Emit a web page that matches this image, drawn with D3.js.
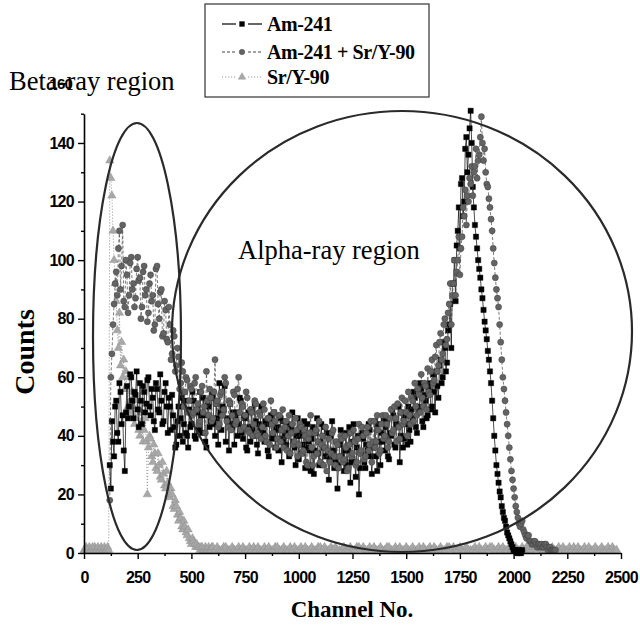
<!DOCTYPE html>
<html><head><meta charset="utf-8">
<script src="https://cdn.jsdelivr.net/npm/d3@7"></script>
<style>body{margin:0;background:#fff}svg{display:block}</style>
</head><body><svg id="c" width="640" height="632"></svg>
<script>
// ---- data ----
// Am-241: channels 120..2040, step 5
const am241Start = 120, am241Step = 5;
const am241 = [
 30,22,45,38,33,50,52,41,38,58,55,44,47,35,28,48,
 57,46,50,61,60,52,46,55,54,62,49,43,58,52,44,57,55,48,51,59,
 60,50,47,56,53,45,42,58,56,49,48,61,52,44,45,55,58,50,41,53,
 50,42,54,47,43,36,37,45,50,40,46,53,38,44,52,41,40,36,49,43,
 44,55,52,40,39,49,48,42,55,47,41,53,47,38,36,51,50,43,45,54,
 53,44,40,51,46,37,58,48,42,50,49,57,38,46,45,35,51,44,43,48,
 37,47,48,40,44,53,52,41,39,47,46,36,35,48,43,38,49,42,40,51,
 45,37,34,44,42,50,50,41,38,45,44,35,33,46,47,39,40,48,36,42,
 43,35,39,46,31,38,45,40,37,44,41,33,34,43,48,38,36,30,40,46,
 32,40,42,34,37,45,29,36,44,38,35,28,39,43,27,35,41,46,34,30,
 38,44,30,36,43,33,33,41,25,32,40,45,35,29,31,38,22,30,37,42,
 33,40,28,35,41,30,35,43,24,31,38,44,31,26,36,40,20,29,34,41,
 39,31,29,37,35,44,42,33,27,36,37,45,33,28,44,38,30,41,38,46,
 35,43,45,33,32,41,40,49,47,37,36,44,43,50,31,40,48,36,39,47,
 44,37,50,42,38,49,46,55,53,43,41,50,49,58,56,45,43,54,52,46,
 47,56,58,49,50,61,55,48,62,57,53,64,66,58,60,72,70,62,65,76,
 78,85,70,92,92,100,86,105,110,118,104,126,128,115,120,138,142,130,136,145,
 151,140,125,118,112,108,104,100,97,94,90,87,83,79,76,73,69,66,62,58,
 52,46,40,35,30,27,24,21,19,16,14,12,11,9,7,6,5,4,3,2,
 1,1,1,0,0,1,0,0,1
];
// Am-241 + Sr/Y-90: channels 120..2195, step 5
const amSrStart = 120, amSrStep = 5;
const amSr = [
 18,60,68,78,85,92,96,88,104,110,90,98,112,86,84,100,
 95,82,88,99,101,90,92,84,87,97,101,93,94,80,84,96,98,88,90,79,
 82,92,95,86,88,76,78,97,98,85,80,89,90,74,75,86,83,73,72,84,
 78,66,68,76,74,62,64,70,67,56,58,65,62,50,55,60,59,48,52,57,
 56,47,48,58,60,49,51,44,45,55,57,48,50,41,62,52,47,56,53,45,
 46,55,66,51,52,43,44,54,55,47,49,60,58,45,43,52,51,42,47,55,
 54,44,45,56,60,48,42,51,50,43,47,55,53,42,41,49,48,40,44,52,
 51,41,40,48,47,39,43,51,49,40,38,46,46,37,52,44,41,48,45,36,
 39,47,47,38,42,49,36,43,45,35,40,47,34,41,44,37,38,46,42,33,
 37,44,43,34,35,42,40,31,30,39,41,47,36,30,33,41,42,34,38,45,
 31,37,40,30,36,43,28,35,39,31,34,41,42,33,30,38,37,29,33,40,
 39,31,32,40,36,28,29,37,41,33,34,42,38,30,31,39,44,34,35,43,
 40,32,33,41,43,35,37,45,31,38,45,36,38,47,42,34,35,44,47,39,
 40,47,44,36,38,46,49,41,42,50,46,38,51,43,39,48,53,44,45,52,
 48,40,55,47,44,53,52,45,58,50,47,56,54,48,61,53,50,58,57,49,
 63,55,54,62,66,58,59,67,71,62,64,72,75,66,68,78,80,71,73,82,
 85,92,78,88,92,100,88,96,100,108,95,104,108,118,115,124,112,122,120,128,
 126,132,122,130,132,138,128,134,136,142,149,140,134,138,130,126,125,121,118,114,
 110,104,99,94,90,87,84,78,72,66,60,56,52,48,44,40,36,32,28,25,
 22,19,16,14,12,10,9,10,11,8,7,6,5,6,6,4,4,3,3,4,
 4,3,2,3,3,2,3,2,2,3,3,2,1,2,2,1,1,1,1,1
];
// Sr/Y-90: channels 0..595 step 5, then 600..2480 step 10
const srY90Start = 0, srY90Step = 5;
const srY90 = [
 1,1,2,1,1,2,1,1,2,1,2,1,1,2,1,1,2,1,1,2,1,1,2,1,
 134,128,122,110,100,92,86,76,70,82,64,72,60,66,56,62,
 56,50,60,52,48,55,50,44,46,52,49,42,40,48,45,38,42,46,38,20,
 36,40,39,33,31,37,34,29,28,34,30,26,25,31,27,23,22,28,24,20,
 19,22,20,16,15,18,16,13,11,14,12,9,8,11,9,7,6,8,5,4,
 3,5,4,3,2,3,2,2,1,2,2,1,1,2,1,1,2,1,1,2
];
const srY90TailStart = 600, srY90TailStep = 10;
const srY90Tail = [
 2,1,2,1,1,2,2,1,1,2,
 1,1,2,1,2,1,1,2,1,2,
 1,2,1,1,2,1,2,1,1,2,
 2,1,1,2,1,1,2,1,2,1,
 1,2,1,2,1,1,2,1,1,2,
 2,1,2,1,1,2,1,2,1,1,
 1,2,1,1,2,1,1,2,2,1,
 2,1,1,2,1,2,1,1,2,1,
 1,2,2,1,1,2,1,2,1,1,
 2,1,1,2,1,1,2,1,2,1,
 1,2,1,2,1,1,2,1,1,2,
 2,1,2,1,1,2,1,1,2,1,
 1,1,2,1,2,1,1,2,1,2,
 2,1,1,2,1,2,1,1,2,1,
 1,2,1,1,2,1,2,1,1,2,
 2,1,2,1,1,2,1,1,2,1,
 1,2,1,2,1,1,2,1,2,1,
 2,1,1,2,1,2,1,1,2,1,
 1,2,1,1,2,1,2,1,1
];
const seriesNames = ["Am-241", "Am-241 + Sr/Y-90", "Sr/Y-90"];
const xTicks = [0,250,500,750,1000,1250,1500,1750,2000,2250,2500];
const xMinor = [125,375,625,875,1125,1375,1625,1875,2125,2375];
const yTicks = [0,20,40,60,80,100,120,140];
const yMinor = [10,30,50,70,90,110,130,150];
const yExtraLabel = 160;

// ---- drawing ----
const svg = d3.select("#c");
const x = d3.scaleLinear().domain([0,2500]).range([84,621]);
const y = d3.scaleLinear().domain([0,150]).range([553,113.7]);

function pts(start, step, arr){ return arr.map((v,i)=>({ch:start+i*step, v})); }

const srS = {name:seriesNames[2], data:pts(srY90Start, srY90Step, srY90).concat(pts(srY90TailStart, srY90TailStep, srY90Tail)),
   sym:d3.symbolTriangle, size:30, fill:"#a8a8a8", stroke:"#8c8c8c", line:"#999", dash:"1.2,1.8", lw:0.9};
const cbS = {name:seriesNames[1], data:pts(amSrStart, amSrStep, amSr),
   sym:d3.symbolCircle, size:30, fill:"#636363", stroke:"#383838", line:"#444", dash:"3,2", lw:0.7};
const amS = {name:seriesNames[0], data:pts(am241Start, am241Step, am241),
   sym:d3.symbolSquare, size:28, fill:"#000", stroke:"#000", line:"#000", dash:null, lw:0.7};
const drawOrder = [srS, amS, cbS];

const lineGen = d3.line().x(d=>x(d.ch)).y(d=>y(d.v));
drawOrder.forEach(s=>{
  const g = svg.append("g");
  g.append("path").attr("d", lineGen(s.data)).attr("fill","none")
   .attr("stroke", s.line).attr("stroke-width", s.lw).attr("stroke-dasharray", s.dash);
  g.selectAll("path.m").data(s.data).enter().append("path").attr("class","m")
   .attr("transform", d=>`translate(${x(d.ch)},${y(d.v)})`)
   .attr("d", d3.symbol().type(s.sym).size(s.size))
   .attr("fill", s.fill).attr("stroke", s.stroke).attr("stroke-width",0.4);
});

// axes
const tickFont = "'Liberation Sans', Arial, sans-serif";
svg.append("g").attr("transform","translate(0,553)")
  .call(d3.axisBottom(x).tickValues(xTicks).tickSize(6).tickSizeOuter(0).tickPadding(13).tickFormat(d3.format("d")));
svg.append("g").attr("transform","translate(0,553)")
  .call(d3.axisBottom(x).tickValues(xMinor).tickSize(3).tickSizeOuter(0).tickFormat(""))
  .select(".domain").remove();
svg.append("g").attr("transform","translate(84,0)")
  .call(d3.axisLeft(y).tickValues(yTicks).tickSize(6).tickSizeOuter(0).tickPadding(4).tickFormat(d3.format("d")));
svg.append("g").attr("transform","translate(84,0)")
  .call(d3.axisLeft(y).tickValues(yMinor).tickSize(3).tickSizeOuter(0).tickFormat(""))
  .select(".domain").remove();
svg.selectAll(".domain").attr("stroke","#000").attr("stroke-width",1.6);
svg.selectAll(".tick line").attr("stroke","#000").attr("stroke-width",1.4);
svg.selectAll(".tick text").attr("font-family",tickFont).attr("font-weight","bold")
  .attr("font-size",16).attr("letter-spacing","-0.7").attr("fill","#000");
svg.append("text").attr("x",72).attr("y",y(yExtraLabel)).attr("dy","0.32em")
  .attr("text-anchor","end").attr("font-family",tickFont).attr("font-weight","bold")
  .attr("font-size",15).attr("letter-spacing","-0.8").text(yExtraLabel);

// ellipses (region markers)
svg.append("ellipse").attr("cx",137).attr("cy",336.5).attr("rx",44).attr("ry",213.5)
  .attr("fill","none").attr("stroke","#2a2a2a").attr("stroke-width",2.2);
svg.append("ellipse").attr("cx",402).attr("cy",331.5).attr("rx",230).attr("ry",220.5)
  .attr("fill","none").attr("stroke","#2a2a2a").attr("stroke-width",2.2);

const serif = "'Liberation Serif','Times New Roman',serif";
svg.append("text").attr("x",9).attr("y",90).attr("font-family",serif).attr("font-size",26.5)
  .text("Beta-ray region");
svg.append("text").attr("x",238).attr("y",259).attr("font-family",serif).attr("font-size",26.5)
  .text("Alpha-ray region");
svg.append("text").attr("transform","translate(34,352) rotate(-90)").attr("text-anchor","middle")
  .attr("font-family",serif).attr("font-weight","bold").attr("font-size",28).text("Counts");
svg.append("text").attr("x",352).attr("y",617).attr("text-anchor","middle")
  .attr("font-family",serif).attr("font-weight","bold").attr("font-size",23).text("Channel No.");

// legend
const lg = svg.append("g");
lg.append("rect").attr("x",205).attr("y",4).attr("width",224).attr("height",93)
  .attr("fill","#fff").attr("stroke","#333").attr("stroke-width",1.2);
const legendOrder = [amS, cbS, srS];
const rowsY = [24, 52, 77];
legendOrder.forEach((s,i)=>{
  const yy = rowsY[i];
  lg.append("line").attr("x1",222).attr("x2",236).attr("y1",yy).attr("y2",yy)
    .attr("stroke",s.line).attr("stroke-width",1.2).attr("stroke-dasharray",s.dash);
  lg.append("line").attr("x1",248).attr("x2",262).attr("y1",yy).attr("y2",yy)
    .attr("stroke",s.line).attr("stroke-width",1.2).attr("stroke-dasharray",s.dash);
  lg.append("path").attr("transform",`translate(242,${yy})`)
    .attr("d", d3.symbol().type(s.sym).size(24)).attr("fill",s.fill).attr("stroke",s.stroke).attr("stroke-width",0.4);
  lg.append("text").attr("x",267).attr("y",yy+7).attr("font-family",serif).attr("font-weight","bold")
    .attr("font-size",20).attr("letter-spacing","-0.4").text(s.name);
});
</script></body></html>
